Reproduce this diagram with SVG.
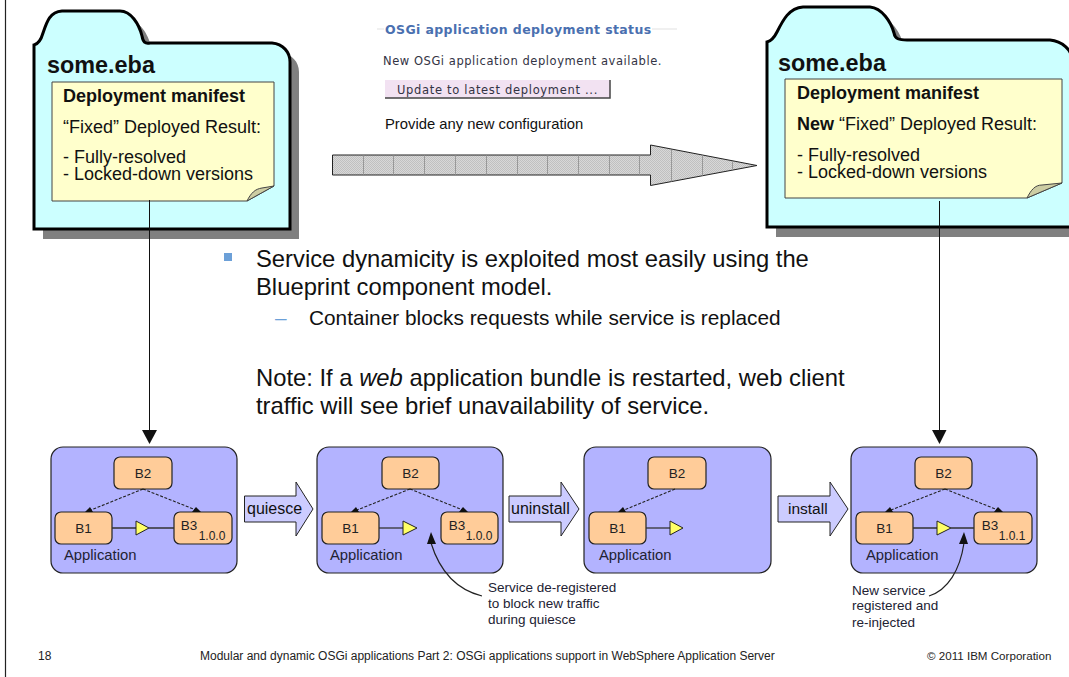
<svg xmlns="http://www.w3.org/2000/svg" width="1069" height="677" viewBox="0 0 1069 677">
<style>
text{font-family:"Liberation Sans",Arial,sans-serif;fill:#111}
.app{fill:#b3b3ff;stroke:#222;stroke-width:1.2}
.b{fill:#ffcc99;stroke:#222;stroke-width:1.2}
.t13{font-size:13.5px;fill:#222}
.lbl{font-size:13.5px;fill:#223}
.appl{font-size:14.8px;fill:#223}
.sm{font-size:12px;fill:#222}
.dash{stroke:#222;stroke-width:1.1;stroke-dasharray:3 1.6;fill:none}
.ln{stroke:#333;stroke-width:1.3;fill:none}
.tri{fill:#ffff66;stroke:#222;stroke-width:1}
.blk{fill:#111}
.blue{fill:#ccccff;stroke:#222;stroke-width:1}
.fold{stroke:#000;stroke-width:3;fill:#ccffff}
.shadow{fill:#808080}
.note{fill:#ffffcc;stroke:#444;stroke-width:1}
.curl{fill:#cdcda3;stroke:#444;stroke-width:1}
.big{font-size:18px}
.head{font-size:23.4px;font-weight:bold}
.body{font-size:23.8px}
.foot{font-size:12px;fill:#222}
.verd{font-family:"DejaVu Sans",sans-serif;fill:#334}
.tick{stroke:#999;stroke-width:1;fill:none}
</style>
<defs>
<pattern id="hatch" width="2" height="2" patternUnits="userSpaceOnUse"><rect width="2" height="2" fill="#d8d8d8"/><rect width="1" height="1" fill="#c0c0c0"/><rect x="1" y="1" width="1" height="1" fill="#c0c0c0"/></pattern>
<path id="folder-a" d="M34 45C38 44 41 40 43 33C47 21 50 12 62 11L120 11C131 11 139 24 142 36C143 42 145 44 150 43L272 43C283 44 290 52 290 62L290 229L34 229Z"/>
<path id="folder-b" d="M767 42C771 41 774 38 777 32C783 20 789 8 803 7L870 7C882 8 891 22 894 33C895 39 899 40 907 40L1050 40C1062 41 1072 50 1072 60L1072 227L767 227Z"/>
</defs>
<path d="M5.500 0V677" stroke="#222" stroke-width="1.200" fill="none"/>

<g id="folder-left">
<use href="#folder-a" x="9" y="10" class="shadow"/>
<use href="#folder-a" class="fold"/>
<text class="head" x="47" y="73">some.eba</text>
<path class="note" d="M52 82H274V186L247 201H52Z"/>
<path class="curl" d="M247 201C251 193 255 189 262 188L274 186Z"/>
<text class="big" x="63" y="102" font-weight="bold">Deployment manifest</text>
<text class="big" x="63" y="133">“Fixed” Deployed Result:</text>
<text class="big" x="63" y="163">- Fully-resolved</text>
<text class="big" x="63" y="180">- Locked-down versions</text>
</g>

<g id="folder-right">
<use href="#folder-b" x="9" y="10" class="shadow"/>
<use href="#folder-b" class="fold"/>
<text class="head" x="778" y="71">some.eba</text>
<path class="note" d="M785 79H1062V183L1027 198H785Z"/>
<path class="curl" d="M1027 198C1031 190 1035 185 1042 185L1062 183Z"/>
<text class="big" x="797" y="99" font-weight="bold">Deployment manifest</text>
<text class="big" x="797" y="130"><tspan font-weight="bold">New</tspan> “Fixed” Deployed Result:</text>
<text class="big" x="797" y="161">- Fully-resolved</text>
<text class="big" x="797" y="178">- Locked-down versions</text>
</g>

<g id="status">
<path d="M377 29H677" stroke="#f0f0f0" stroke-width="2"/>
<rect x="384" y="20" width="268" height="16" fill="#fff"/>
<text class="verd" x="385" y="34" font-size="12.500" font-weight="bold" letter-spacing="0.380" style="fill:#4a70b0">OSGi application deployment status</text>
<text class="verd" x="383" y="65" font-size="11.500" letter-spacing="0.550">New OSGi application deployment available.</text>
<rect x="385" y="80" width="225" height="18" fill="#f2e2f2"/>
<path d="M385 98H610V80" stroke="#444" stroke-width="1.500" fill="none"/>
<text class="verd" x="397" y="94" font-size="11.500" letter-spacing="0.680">Update to latest deployment ...</text>
<text x="385" y="129" font-size="14.800">Provide any new configuration</text>
</g>

<g id="big-arrow">
<path d="M332.500 155H650.500V145L757 165.500L650.500 185.500V175H332.500Z" fill="url(#hatch)" stroke="#222" stroke-width="1"/>
<path class="tick" d="M363.500 155.500V174.500M393.500 155.500V174.500M424.500 155.500V174.500M455.500 155.500V174.500M486.500 155.500V174.500M517.500 155.500V174.500M547.500 155.500V174.500M578.500 155.500V174.500M609.500 155.500V174.500M639.500 155.500V174.500M671.500 150V181.500M702.500 155.500V175.500M732.500 161V170"/>
</g>

<g id="bullets">
<rect x="224" y="253" width="8" height="8" fill="#6ca0d8"/>
<text class="body" x="256" y="267">Service dynamicity is exploited most easily using the</text>
<text class="body" x="256" y="294.500">Blueprint component model.</text>
<text x="275" y="324.500" font-size="20.800" style="fill:#6ca0d8">–</text>
<text x="309" y="324.500" font-size="20.800">Container blocks requests while service is replaced</text>
<text class="body" x="256" y="386">Note: If a <tspan font-style="italic">web</tspan> application bundle is restarted, web client</text>
<text class="body" x="256" y="414">traffic will see brief unavailability of service.</text>
</g>

<g id="app-1" transform="translate(51,447)">
<rect class="app" width="186" height="126" rx="12"/>
<rect class="b" x="63" y="10" width="58" height="32" rx="6"/>
<text class="t13" x="92" y="31" text-anchor="middle">B2</text>
<rect class="b" x="4" y="65" width="57" height="32" rx="6"/>
<text class="t13" x="32.500" y="86" text-anchor="middle">B1</text>
<rect class="b" x="123" y="65" width="58" height="32" rx="6"/>
<text class="t13" x="138" y="83" text-anchor="middle">B3</text>
<text class="sm" x="161" y="93" text-anchor="middle">1.0.0</text>
<path class="ln" d="M61 81H85M98 81H123"/>
<path class="tri" d="M85 74L98 81L85 88Z"/>
<text class="appl" x="13" y="113">Application</text>
</g>
<g id="app-2" transform="translate(317,447)">
<rect class="app" width="186" height="126" rx="12"/>
<rect class="b" x="65" y="10" width="57" height="32" rx="6"/>
<text class="t13" x="93.500" y="31" text-anchor="middle">B2</text>
<rect class="b" x="5" y="65" width="57" height="32" rx="6"/>
<text class="t13" x="33.500" y="86" text-anchor="middle">B1</text>
<rect class="b" x="124" y="65" width="57" height="32" rx="6"/>
<text class="t13" x="140" y="83" text-anchor="middle">B3</text>
<text class="sm" x="162" y="93" text-anchor="middle">1.0.0</text>
<path class="ln" d="M62 81H86"/>
<path class="tri" d="M86 74L100 81L86 88Z"/>
<text class="appl" x="13" y="113">Application</text>
</g>
<g id="app-3" transform="translate(584,447)">
<rect class="app" width="187" height="126" rx="12"/>
<rect class="b" x="64" y="10" width="58" height="32" rx="6"/>
<text class="t13" x="93" y="31" text-anchor="middle">B2</text>
<rect class="b" x="5" y="65" width="57" height="32" rx="6"/>
<text class="t13" x="33.500" y="86" text-anchor="middle">B1</text>
<path class="ln" d="M62 81H86"/>
<path class="tri" d="M86 74L99 81L86 88Z"/>
<text class="appl" x="15" y="113">Application</text>
</g>
<g id="app-4" transform="translate(851,447)">
<rect class="app" width="186" height="126" rx="12"/>
<rect class="b" x="64" y="10" width="57" height="32" rx="6"/>
<text class="t13" x="92.500" y="31" text-anchor="middle">B2</text>
<rect class="b" x="5" y="65" width="57" height="32" rx="6"/>
<text class="t13" x="33.500" y="86" text-anchor="middle">B1</text>
<rect class="b" x="123" y="65" width="58" height="32" rx="6"/>
<text class="t13" x="139" y="83" text-anchor="middle">B3</text>
<text class="sm" x="161" y="93" text-anchor="middle">1.0.1</text>
<path class="ln" d="M62 81H86M100 81H123"/>
<path class="tri" d="M86 74L100 81L86 88Z"/>
<text class="appl" x="15" y="113">Application</text>
</g>

<g id="step-quiesce">
<path class="blue" d="M244.500 496H296V482L313 509L296 536V522H244.500Z"/>
<text x="247" y="514" font-size="16">quiesce</text>
</g>
<g id="step-uninstall">
<path class="blue" d="M509 496H561V482L579 509L561 536V522H509Z"/>
<text x="511" y="514" font-size="16">uninstall</text>
</g>
<g id="step-install">
<path class="blue" d="M778 496H830V482L848 509L830 536V522H778Z"/>
<text x="788" y="514" font-size="15.500">install</text>
</g>

<g id="connectors">
<path d="M149.500 200V432" stroke="#111" stroke-width="1" fill="none"/>
<path class="blk" d="M142 430H157L149.500 444Z"/>
<path d="M939.500 201V432" stroke="#111" stroke-width="1" fill="none"/>
<path class="blk" d="M932 430H946.500L939.500 444Z"/>
<g id="deps">
<path class="dash" d="M143 489L91 510M143 489L196 510"/>
<path class="blk" d="M85 512L90 507L93 512ZM192 512L196 507L201 512Z"/>
<path class="dash" d="M410 489L357 510M410 489L463 510"/>
<path class="blk" d="M351 512L356 507L359 512ZM459 512L463 507L468 512Z"/>
<path class="dash" d="M675 489L624 510"/>
<path class="blk" d="M618 512L623 507L626 512Z"/>
<path class="dash" d="M945 489L891 510M945 489L998 510"/>
<path class="blk" d="M885 512L890 507L893 512ZM994 512L998 507L1003 512Z"/>
</g>
<path d="M482 596C458 590 440 572 431 543" stroke="#222" stroke-width="1.200" fill="none"/>
<path class="blk" d="M427 544L431 532L436 544Z"/>
<path d="M929 596C948 590 960 570 964 543" stroke="#222" stroke-width="1.200" fill="none"/>
<path class="blk" d="M959 544L964 532L968 544Z"/>
</g>

<g id="notes">
<text class="lbl" x="488" y="592">Service de-registered</text>
<text class="lbl" x="488" y="608">to block new traffic</text>
<text class="lbl" x="488" y="624">during quiesce</text>
<text class="lbl" x="852" y="595">New service</text>
<text class="lbl" x="852" y="610">registered and</text>
<text class="lbl" x="852" y="627">re-injected</text>
</g>

<g id="footer">
<text class="foot" x="38" y="660">18</text>
<text class="foot" x="200" y="660">Modular and dynamic OSGi applications Part 2: OSGi applications support in WebSphere Application Server</text>
<text class="foot" x="927" y="660" style="font-size:11.600px">© 2011 IBM Corporation</text>
</g>
</svg>
